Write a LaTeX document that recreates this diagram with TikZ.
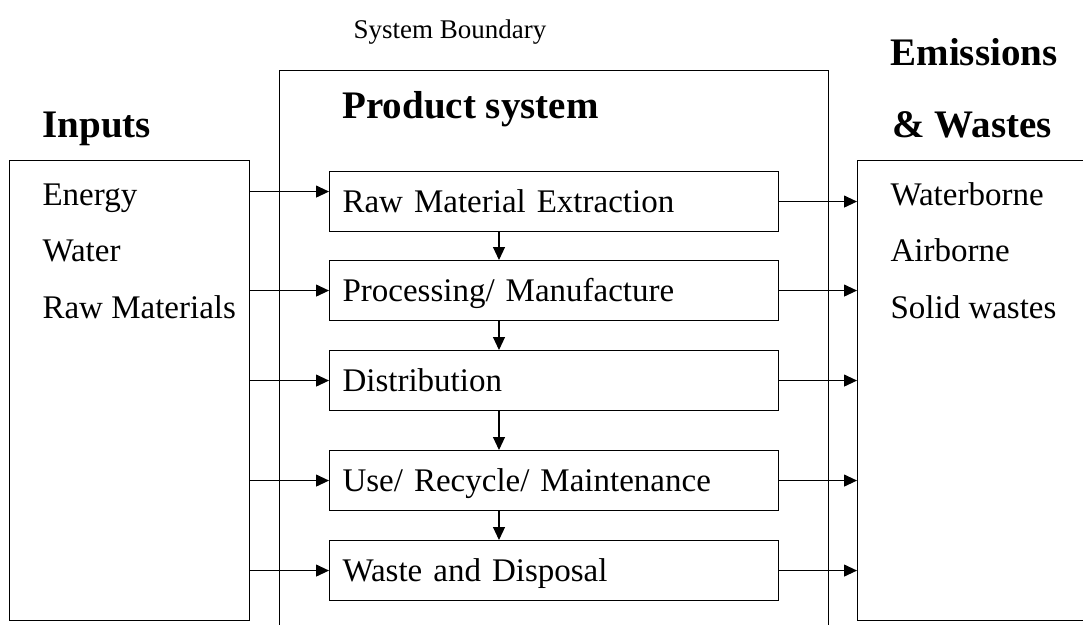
\documentclass[tikz,border=0pt]{standalone}
\usepackage{fontspec}
\setmainfont{Liberation Serif}
\usetikzlibrary{arrows.meta}

\begin{document}
\begin{tikzpicture}[x=1pt,y=-1pt,line width=1.1pt,
  >={Triangle[length=13pt,width=12pt]},
  frame node/.style={draw,rectangle,anchor=north west,inner sep=0pt},
  stage node/.style={draw,rectangle,anchor=north west,minimum width=449pt,
    minimum height=60pt,text width=423pt,inner xsep=13pt,align=left,
    text height=22pt,text depth=0pt,font=\fontsize{33}{40}\selectfont},
  list node/.style={anchor=base west,inner sep=0pt,font=\fontsize{33}{40}\selectfont},
  head node/.style={anchor=base west,inner sep=0pt,font=\fontsize{39}{46}\selectfont\bfseries}]

  \useasboundingbox (0,0) rectangle (1083,624);
  \clip (0,0) rectangle (1083,624);

  % outer frames
  \node[frame node,minimum width=240pt,minimum height=460pt] (inbox) at (9,160) {};
  \node[frame node,minimum width=549pt,minimum height=600pt] (boundary) at (279,70) {};
  \node[frame node,minimum width=260pt,minimum height=460pt] (outbox) at (857,160) {};

  % titles
  \node[anchor=base,inner sep=0pt,font=\fontsize{27}{32}\selectfont] (boundtitle) at (450,38) {System Boundary};
  \node[head node] (intitle) at (42,137) {Inputs};
  \node[head node] (prodtitle) at (342,118) {Product system};
  \node[head node] (emtitle) at (890,65) {Emissions};
  \node[head node] (wastetitle) at (892,137) {\& Wastes};

  % life cycle stages
  \node[stage node] (raw) at (329,171) {Raw Material Extraction};
  \node[stage node] (proc) at (329,260) {Processing/ Manufacture};
  \node[stage node] (dist) at (329,350) {Distribution};
  \node[stage node] (use) at (329,450) {Use/ Recycle/ Maintenance};
  \node[stage node] (disp) at (329,540) {Waste and Disposal};

  % inputs and outputs
  \node[list node] (energy) at (42,205) {Energy};
  \node[list node] (water) at (42,261) {Water};
  \node[list node] (rawmat) at (42,318) {Raw Materials};
  \node[list node] (waterb) at (890,205) {Waterborne};
  \node[list node] (airb) at (890,261) {Airborne};
  \node[list node] (solid) at (890,318) {Solid wastes};

  % flows into the stages
  \draw[->] ([yshift=10pt]raw.west -| inbox.east) -- ([yshift=10pt]raw.west);
  \draw[->] (proc.west -| inbox.east) -- (proc.west);
  \draw[->] (dist.west -| inbox.east) -- (dist.west);
  \draw[->] (use.west -| inbox.east) -- (use.west);
  \draw[->] (disp.west -| inbox.east) -- (disp.west);

  % flows out of the stages
  \draw[->] (raw.east) -- (raw.east -| outbox.west);
  \draw[->] (proc.east) -- (proc.east -| outbox.west);
  \draw[->] (dist.east) -- (dist.east -| outbox.west);
  \draw[->] (use.east) -- (use.east -| outbox.west);
  \draw[->] (disp.east) -- (disp.east -| outbox.west);

  % stage sequence
  \draw[->] ([xshift=170pt]raw.south west) -- ([xshift=170pt]proc.north west);
  \draw[->] ([xshift=170pt]proc.south west) -- ([xshift=170pt]dist.north west);
  \draw[->] ([xshift=170pt]dist.south west) -- ([xshift=170pt]use.north west);
  \draw[->] ([xshift=170pt]use.south west) -- ([xshift=170pt]disp.north west);
\end{tikzpicture}
\end{document}
